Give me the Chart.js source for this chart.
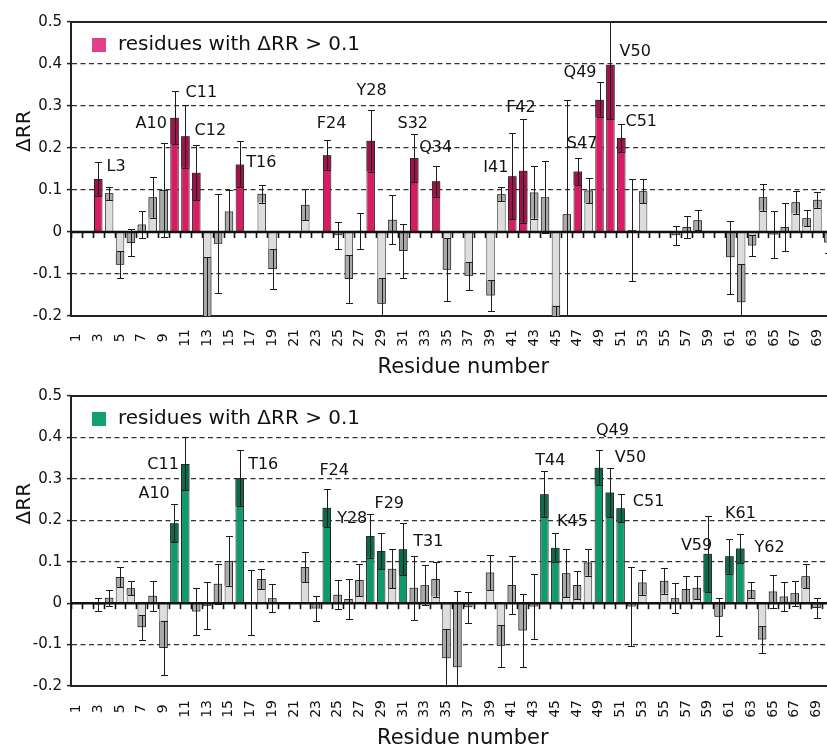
<!DOCTYPE html>
<html><head><meta charset="utf-8">
<script src="https://cdn.jsdelivr.net/npm/chart.js@4.4.1/dist/chart.umd.min.js"></script>
<style>
html,body{margin:0;padding:0;background:#fff;overflow:hidden;width:827px;height:751px;}
#wrap{position:relative;width:827px;height:751px;overflow:hidden;background:#fff;}
canvas{position:absolute;left:0;}
</style></head><body>
<div id="wrap">
<canvas id="c1" width="880" height="380" style="top:0px"></canvas>
<canvas id="c2" width="880" height="375" style="top:376px"></canvas>
</div>
<script>
// ---------- DATA ----------
const residues = ['1','2','3','4','5','6','7','8','9','10',
  '11','12','13','14','15','16','17','18','19','20',
  '21','22','23','24','25','26','27','28','29','30',
  '31','32','33','34','35','36','37','38','39','40',
  '41','42','43','44','45','46','47','48','49','50',
  '51','52','53','54','55','56','57','58','59','60',
  '61','62','63','64','65','66','67','68','69','70',
  '71','72'];

const topValues = [null,null,0.126,0.092,-0.078,-0.026,0.018,0.083,0.100,0.272,
  0.228,0.141,-0.240,-0.028,0.049,0.161,null,0.091,-0.088,null,
  null,0.065,null,0.183,-0.008,-0.112,0.003,0.217,-0.171,0.029,
  -0.045,0.176,null,0.121,-0.090,null,-0.104,null,-0.151,0.090,
  0.133,0.146,0.094,0.083,-0.220,0.042,0.144,0.099,0.315,0.398,
  0.224,0.005,0.097,null,null,-0.008,0.012,0.028,null,null,
  -0.060,-0.167,-0.032,0.083,-0.006,0.012,0.071,0.033,0.077,-0.025,
  null,null];
const topErrors = [null,null,0.040,0.016,0.032,0.032,0.033,0.049,0.112,0.063,
  0.075,0.065,0.180,0.118,0.050,0.055,null,0.021,0.048,null,
  null,0.037,null,0.035,0.032,0.057,0.043,0.073,0.061,0.058,
  0.065,0.057,null,0.037,0.075,null,0.033,null,0.036,0.016,
  0.103,0.124,0.062,0.085,0.045,0.273,0.032,0.030,0.042,0.130,
  0.034,0.122,0.028,null,null,0.022,0.026,0.024,null,null,
  0.087,0.090,0.026,0.032,0.056,0.057,0.027,0.019,0.019,0.025,
  null,null];
const topHighlighted = [3,10,11,12,16,24,28,32,34,41,42,47,49,50,51];

const bottomValues = [null,null,-0.003,0.013,0.063,0.036,-0.058,0.018,-0.108,0.193,
  0.336,-0.020,-0.006,0.047,0.102,0.302,0.002,0.058,0.012,null,
  null,0.087,-0.013,0.230,0.020,0.010,0.056,0.162,0.126,0.083,
  0.130,0.037,0.043,0.058,-0.133,-0.155,-0.010,null,0.074,-0.103,
  0.044,-0.066,-0.008,0.263,0.134,0.072,0.044,0.098,0.327,0.267,
  0.229,-0.008,0.050,null,0.054,0.012,0.034,0.037,0.119,-0.033,
  0.113,0.132,0.031,-0.088,0.028,0.016,0.024,0.065,-0.012,null,
  null,null];
const bottomErrors = [null,null,0.016,0.019,0.025,0.017,0.030,0.036,0.066,0.046,
  0.064,0.056,0.056,0.048,0.060,0.068,0.078,0.025,0.034,null,
  null,0.036,0.030,0.046,0.035,0.049,0.039,0.052,0.044,0.047,
  0.063,0.077,0.048,0.042,0.070,0.185,0.037,null,0.043,0.050,
  0.070,0.087,0.078,0.055,0.035,0.058,0.034,0.032,0.043,0.059,
  0.034,0.095,0.030,null,0.031,0.036,0.032,0.028,0.092,0.046,
  0.042,0.035,0.019,0.033,0.040,0.036,0.030,0.029,0.024,null,
  null,null];
const bottomHighlighted = [10,11,16,24,28,29,31,44,45,49,50,51,59,61,62];

const legendText = 'residues with \u0394RR > 0.1';
const xTitle = 'Residue number';
const yTitle = '\u0394RR';

// residue labels: [text, x in residue units, y in ΔRR units]
const topAnnotations = [['L3',4.64,0.155],['A10',7.86,0.257],['C11',12.46,0.331],['C12',13.29,0.240],
  ['T16',17.97,0.164],['F24',24.41,0.257],['Y28',28.09,0.336],['S32',31.86,0.257],['Q34',33.97,0.200],
  ['I41',39.49,0.152],['F42',41.79,0.295],['S47',47.40,0.210],['Q49',47.21,0.379],['V50',52.27,0.429],
  ['C51',52.83,0.262]];
const bottomAnnotations = [['A10',8.14,0.263],['C11',8.96,0.333],['T16',18.16,0.333],['F24',24.68,0.319],
  ['Y28',26.34,0.203],['F29',29.74,0.239],['T31',33.33,0.147],['T44',44.55,0.343],['K45',46.57,0.196],
  ['Q49',50.25,0.415],['V50',51.91,0.350],['C51',53.57,0.244],['V59',57.98,0.138],['K61',62.02,0.215],
  ['Y62',64.69,0.133]];

// ---------- CHART ----------
const FONT = 'DejaVu Sans';

function makePlugin(cfg) {
  return {
    id: 'panelDeco',
    afterDatasetsDraw(chart) {
      const {ctx, chartArea: a, scales: {x, y}} = chart;
      ctx.save();
      ctx.beginPath(); ctx.rect(a.left, a.top, a.right - a.left, a.bottom - a.top); ctx.clip();
      ctx.strokeStyle = '#1c1c1c'; ctx.lineWidth = 1;
      cfg.values.forEach((v, i) => {
        if (v === null) return;
        const e = cfg.errors[i];
        const px = Math.round(x.getPixelForValue(i)) + 0.5;
        const y1 = Math.round(y.getPixelForValue(v - e)) + 0.5;
        const y2 = Math.round(y.getPixelForValue(v + e)) + 0.5;
        ctx.beginPath();
        ctx.moveTo(px, y1); ctx.lineTo(px, y2);
        ctx.moveTo(px - 3.5, y1); ctx.lineTo(px + 3.5, y1);
        ctx.moveTo(px - 3.5, y2); ctx.lineTo(px + 3.5, y2);
        ctx.stroke();
      });
      ctx.restore();
      // zero line with tick marks
      const y0 = y.getPixelForValue(0);
      ctx.save();
      ctx.strokeStyle = '#111';
      ctx.lineWidth = 2.5;
      ctx.beginPath(); ctx.moveTo(a.left, y0); ctx.lineTo(a.right, y0); ctx.stroke();
      ctx.lineWidth = 1.6;
      for (let i = 0; i <= residues.length; i++) {
        const bx = Math.round(x.getPixelForValue(i - 0.5)) + 0.5;
        ctx.beginPath(); ctx.moveTo(bx, y0); ctx.lineTo(bx, y0 + 6); ctx.stroke();
      }
      // top frame
      const yt = y.getPixelForValue(y.max);
      ctx.lineWidth = 2;
      ctx.strokeStyle = '#222';
      ctx.beginPath(); ctx.moveTo(a.left - 1, yt); ctx.lineTo(a.right, yt); ctx.stroke();
      ctx.restore();
    },
    afterDraw(chart) {
      const {ctx, chartArea: a, scales: {x, y}} = chart;
      ctx.save();
      // legend
      ctx.fillStyle = cfg.legendColor;
      ctx.fillRect(a.left + 21, a.top + 16, 14, 14);
      ctx.fillStyle = '#111';
      ctx.font = '20px ' + FONT;
      ctx.textBaseline = 'middle';
      ctx.textAlign = 'left';
      ctx.fillText(legendText, a.left + 47, a.top + 23);
      // annotations
      ctx.font = '16px ' + FONT;
      ctx.textAlign = 'center';
      cfg.annotations.forEach(([t, rx, ry]) => {
        ctx.fillText(t, x.getPixelForValue(rx - 1), y.getPixelForValue(ry));
      });
      // y title
      ctx.font = '20px ' + FONT;
      ctx.translate(25, y.getPixelForValue(0.24));
      ctx.rotate(-Math.PI / 2);
      ctx.textAlign = 'center';
      ctx.fillText(yTitle, 0, 0);
      ctx.restore();
    }
  };
}

function makeChart(id, values, errors, highlighted, colors, annotations, padTop, plotH, canvasH, labelPad) {
  const isHi = (i) => highlighted.includes(i + 1);
  const hiData = values.map((v, i) => isHi(i) ? v : null);
  const otherData = values.map((v, i) => isHi(i) ? null : v);
  const bandData = values.map((v, i) => {
    if (v === null || v === 0) return null;
    const e = errors[i];
    return v > 0 ? [Math.max(0, v - e), v] : [v, Math.min(0, v + e)];
  });
  const bandColors = values.map((v, i) => isHi(i) ? colors.dark : '#a9a9a9');
  const common = {grouped: false, barPercentage: 0.78, categoryPercentage: 1.0, borderWidth: 1, borderSkipped: 'start'};
  return new Chart(document.getElementById(id), {
    type: 'bar',
    data: {
      labels: residues,
      datasets: [
        Object.assign({label: 'band', data: bandData, backgroundColor: bandColors, borderColor: '#2b2b2b', order: 0}, common),
        Object.assign({label: legendText, data: hiData, backgroundColor: colors.main, borderColor: '#2a1a20', order: 1}, common),
        Object.assign({label: 'other', data: otherData, backgroundColor: '#dddddd', borderColor: '#3a3a3a', order: 2}, common)
      ]
    },
    options: {
      responsive: false,
      animation: false,
      devicePixelRatio: 1,
      layout: {padding: {top: padTop, right: 6, bottom: 0, left: 0}},
      plugins: {legend: {display: false}, tooltip: {enabled: false}},
      scales: {
        x: {
          type: 'category',
          offset: true,
          grid: {display: true, drawOnChartArea: false, drawTicks: false},
          border: {display: true, color: '#222', width: 2},
          ticks: {
            autoSkip: false, maxRotation: 90, minRotation: 90, padding: labelPad,
            color: '#111', font: {family: FONT, size: 14},
            callback: function(val, idx) {
              const r = Number(residues[idx]);
              if (r % 2 === 0) return '';
              return r < 10 ? residues[idx] + ' ' : residues[idx];
            }
          },
          title: {display: true, text: xTitle, color: '#111', font: {family: FONT, size: 21}, padding: {top: 0, bottom: 0}},
          afterFit: (s) => { s.height = canvasH - padTop - plotH; }
        },
        y: {
          min: -0.2, max: 0.5,
          afterBuildTicks: (s) => { s.ticks = [-0.2,-0.1,0,0.1,0.2,0.3,0.4,0.5].map(v => ({value: v})); },
          grid: {
            color: (c) => {
              const v = c.tick ? c.tick.value : 1;
              return (Math.abs(v) < 1e-6 || Math.abs(v - 0.5) < 1e-6 || Math.abs(v + 0.2) < 1e-6) ? 'rgba(0,0,0,0)' : '#333';
            },
            lineWidth: 1.2, drawTicks: true, tickLength: 4, tickColor: '#222', tickWidth: 1.5
          },
          border: {display: true, color: '#222', width: 2, dash: [5, 3.5]},
          ticks: {
            padding: 5, color: '#111', font: {family: FONT, size: 15},
            callback: (v) => String(Math.round(v * 10) / 10)
          },
          afterFit: (s) => { s.width = 71; }
        }
      }
    },
    plugins: [makePlugin({values, errors, annotations, legendColor: colors.legend})]
  });
}

makeChart('c1', topValues, topErrors, topHighlighted,
  {main: '#d61c62', dark: '#a0124a', legend: '#e0408a'}, topAnnotations, 22, 294, 380, 13);
makeChart('c2', bottomValues, bottomErrors, bottomHighlighted,
  {main: '#0f9a6c', dark: '#0a6b4b', legend: '#14a074'}, bottomAnnotations, 20, 290, 375, 14);
</script>
</body></html>
